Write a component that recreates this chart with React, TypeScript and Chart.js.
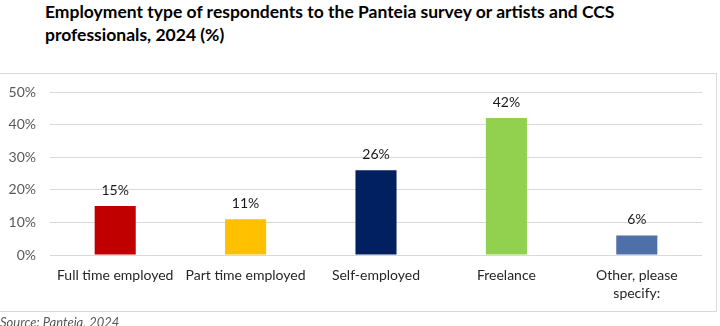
import React, { useEffect, useRef } from "react";
import { Chart, registerables } from "chart.js";

Chart.register(...registerables);

const titleLines = [
  "Employment type of respondents to the Panteia survey or artists and CCS",
  "professionals, 2024 (%)",
];
const categories: (string | string[])[] = [
  "Full time employed",
  "Part time employed",
  "Self-employed",
  "Freelance",
  ["Other, please", "specify:"],
];
const values = [15, 11, 26, 42, 6];
const barColors = ["#C00000", "#FFC000", "#002060", "#92D050", "#4F6FA8"];
const yTicks = [0, 10, 20, 30, 40, 50];
const sourceText = "Source: Panteia, 2024";

const FONT = "Lato, 'Liberation Sans', sans-serif";

const valueLabels = {
  id: "valueLabels",
  afterDatasetsDraw(chart: any) {
    const ctx = chart.ctx;
    const meta = chart.getDatasetMeta(0);
    ctx.save();
    ctx.font = `14px ${FONT}`;
    ctx.fillStyle = "#1a1a1a";
    ctx.textAlign = "center";
    ctx.textBaseline = "middle";
    meta.data.forEach((bar: any, i: number) => {
      ctx.fillText(`${values[i]}%`, bar.x, bar.y - 16);
    });
    ctx.restore();
  },
};

export default function App() {
  const canvasRef = useRef<HTMLCanvasElement | null>(null);

  useEffect(() => {
    document.body.style.margin = "0";
    const chart = new Chart(canvasRef.current!, {
      type: "bar",
      data: {
        labels: categories,
        datasets: [
          {
            data: values,
            backgroundColor: barColors,
            barPercentage: 0.315,
            categoryPercentage: 1,
          },
        ],
      },
      options: {
        animation: false,
        responsive: false,
        maintainAspectRatio: false,
        layout: { padding: { top: 92, right: 18, bottom: 11, left: 0 } },
        plugins: {
          legend: { display: false },
          tooltip: { enabled: false },
        },
        scales: {
          x: {
            grid: { display: false, drawTicks: false },
            border: { display: false },
            ticks: {
              color: "#262626",
              font: { family: FONT, size: 14, lineHeight: 1.3 },
              padding: 11,
              maxRotation: 0,
              autoSkip: false,
            },
            afterFit: (s: any) => {
              s.height = 60;
            },
          },
          y: {
            min: 0,
            max: 50,
            afterBuildTicks: (s: any) => {
              s.ticks = yTicks.map((v) => ({ value: v }));
            },
            grid: { color: "#d9d9d9", lineWidth: 1, drawTicks: false },
            border: { display: false },
            ticks: {
              color: "#595959",
              font: { family: FONT, size: 14 },
              padding: 14,
              callback: (v: any) => `${v}%`,
            },
            afterFit: (s: any) => {
              s.width = 50;
            },
          },
        },
      },
      plugins: [valueLabels],
    });
    return () => chart.destroy();
  }, []);

  return (
    <div
      style={{
        position: "absolute",
        left: 0,
        top: 0,
        width: 720,
        height: 326,
        overflow: "hidden",
        background: "#fff",
        fontFamily: FONT,
      }}
    >
      <div
        style={{
          position: "absolute",
          left: 45,
          top: 0,
          fontWeight: 700,
          fontSize: 17.5,
          lineHeight: "23px",
          color: "#000",
          whiteSpace: "nowrap",
        }}
      >
        {titleLines.map((l, i) => (
          <div key={i}>{l}</div>
        ))}
      </div>
      <div
        style={{
          position: "absolute",
          left: -1,
          top: 73,
          width: 718,
          height: 239,
          border: "1px solid #d9d9d9",
          boxSizing: "border-box",
        }}
      />
      <canvas
        ref={canvasRef}
        width={720}
        height={326}
        style={{ position: "absolute", left: 0, top: 0, width: 720, height: 326 }}
      />
      <div
        style={{
          position: "absolute",
          left: 0,
          top: 314,
          fontStyle: "italic",
          fontSize: 13,
          color: "#595959",
          whiteSpace: "nowrap",
        }}
      >
        {sourceText}
      </div>
    </div>
  );
}
